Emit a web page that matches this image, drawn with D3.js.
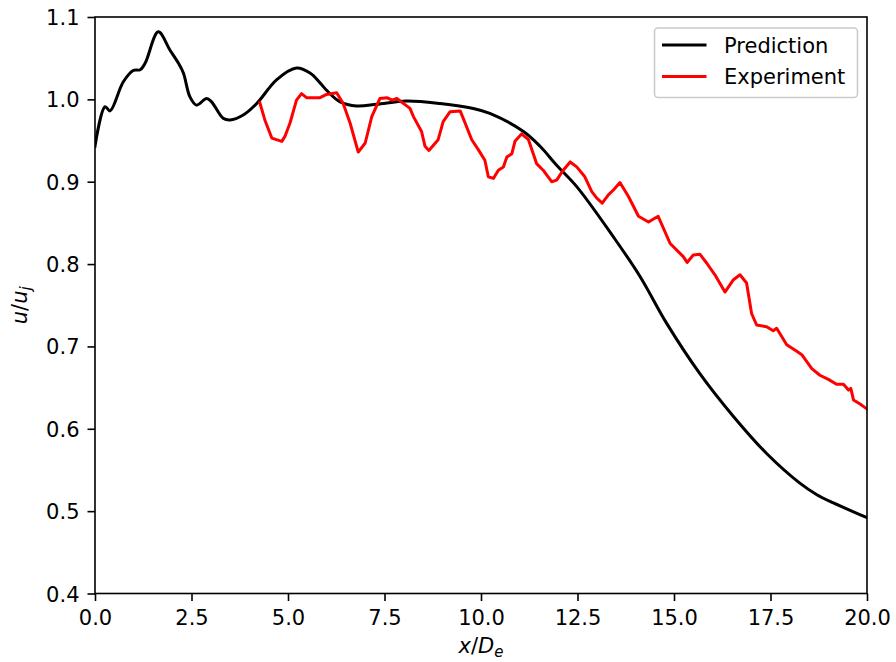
<!DOCTYPE html>
<html>
<head>
<meta charset="utf-8">
<script src="https://cdn.jsdelivr.net/npm/d3@7"></script>
<style>
  html, body { margin: 0; padding: 0; background: #fff; }
  svg { display: block; }
  text { font-family: "DejaVu Sans", sans-serif; }
</style>
</head>
<body>
<svg id="chart" width="896" height="662"></svg>
<script>
// Centreline velocity decay: prediction vs. experiment
const predX = [0, 0.26, 0.39, 0.73, 0.99, 1.17, 1.30, 1.64, 1.94, 2.16, 2.29, 2.46, 2.63, 2.89, 3.02, 3.32, 3.50, 3.84, 4.19, 4.71, 5.22, 5.57, 5.83, 6.00, 6.35, 6.78, 7.30, 8.07, 8.94, 9.80, 10.23, 11.10, 11.53, 11.96, 12.48, 13.43, 14.12, 14.81, 15.67, 16.54, 17.40, 18.26, 18.70, 19.13, 20.0];
const predY = [0.943, 0.991, 0.986, 1.021, 1.035, 1.036, 1.044, 1.082, 1.060, 1.044, 1.032, 1.003, 0.993, 1.001, 0.997, 0.977, 0.975, 0.981, 0.995, 1.024, 1.038, 1.032, 1.020, 1.011, 0.997, 0.992, 0.994, 0.998, 0.995, 0.989, 0.983, 0.961, 0.943, 0.920, 0.894, 0.833, 0.785, 0.728, 0.667, 0.615, 0.570, 0.534, 0.520, 0.510, 0.492];

const expX = [4.27, 4.40, 4.58, 4.84, 4.92, 5.05, 5.22, 5.35, 5.48, 5.83, 6.00, 6.26, 6.43, 6.61, 6.82, 7.00, 7.17, 7.38, 7.56, 7.70, 7.82, 8.16, 8.25, 8.46, 8.55, 8.65, 8.89, 9.02, 9.20, 9.46, 9.54, 9.76, 9.93, 10.10, 10.19, 10.32, 10.45, 10.58, 10.67, 10.80, 10.88, 11.05, 11.23, 11.44, 11.61, 11.83, 11.96, 12.13, 12.31, 12.48, 12.69, 12.87, 13.00, 13.14, 13.30, 13.43, 13.60, 13.82, 14.08, 14.34, 14.59, 14.90, 15.24, 15.34, 15.50, 15.67, 15.85, 16.06, 16.32, 16.54, 16.71, 16.88, 17.01, 17.14, 17.40, 17.57, 17.66, 17.92, 18.18, 18.31, 18.57, 18.78, 19.00, 19.21, 19.39, 19.52, 19.58, 19.65, 19.82, 20.0];
const expY = [0.996, 0.975, 0.953, 0.949, 0.955, 0.971, 0.999, 1.007, 1.002, 1.002, 1.006, 1.008, 0.995, 0.971, 0.936, 0.947, 0.979, 1.001, 1.002, 0.999, 1.001, 0.989, 0.979, 0.961, 0.943, 0.938, 0.951, 0.973, 0.985, 0.986, 0.977, 0.951, 0.939, 0.926, 0.906, 0.904, 0.914, 0.918, 0.930, 0.934, 0.949, 0.958, 0.951, 0.922, 0.914, 0.900, 0.902, 0.914, 0.924, 0.918, 0.906, 0.888, 0.880, 0.874, 0.884, 0.890, 0.899, 0.882, 0.858, 0.851, 0.858, 0.825, 0.809, 0.802, 0.811, 0.812, 0.801, 0.787, 0.766, 0.781, 0.787, 0.777, 0.740, 0.726, 0.724, 0.719, 0.722, 0.702, 0.694, 0.690, 0.673, 0.665, 0.660, 0.654, 0.654, 0.647, 0.649, 0.635, 0.630, 0.624];

const xTicks = [0, 2.5, 5, 7.5, 10, 12.5, 15, 17.5, 20];
const yTicks = [0.4, 0.5, 0.6, 0.7, 0.8, 0.9, 1.0, 1.1];
const seriesNames = ["Prediction", "Experiment"];
const seriesColors = ["#000000", "#ff0000"];

const svg = d3.select("#chart");
const margin = { left: 95, right: 29, top: 17, bottom: 68.5 };
const W = 896, H = 662;
const FONT = 21;

const x = d3.scaleLinear().domain([0, 20]).range([margin.left, W - margin.right]);
const y = d3.scaleLinear().domain([0.4, 1.1]).range([H - margin.bottom, margin.top]);

const clipId = "plotclip";
svg.append("clipPath").attr("id", clipId)
  .append("rect")
  .attr("x", x(0)).attr("y", y(1.1))
  .attr("width", x(20) - x(0)).attr("height", y(0.4) - y(1.1));

const plot = svg.append("g").attr("clip-path", `url(#${clipId})`);

const predLine = d3.line()
  .x(d => x(d[0])).y(d => y(d[1]))
  .curve(d3.curveCatmullRom.alpha(0.5));
const expLine = d3.line()
  .x(d => x(d[0])).y(d => y(d[1]))
  .curve(d3.curveLinear);

plot.append("path")
  .datum(d3.zip(predX, predY))
  .attr("d", predLine)
  .attr("fill", "none")
  .attr("stroke", seriesColors[0])
  .attr("stroke-width", 3)
  .attr("stroke-linejoin", "round")
  .attr("stroke-linecap", "square");

plot.append("path")
  .datum(d3.zip(expX, expY))
  .attr("d", expLine)
  .attr("fill", "none")
  .attr("stroke", seriesColors[1])
  .attr("stroke-width", 3)
  .attr("stroke-linejoin", "round")
  .attr("stroke-linecap", "square");

// Axes
const fmt = d3.format(".1f");

const xAxis = svg.append("g")
  .attr("transform", `translate(0,${y(0.4)})`)
  .call(d3.axisBottom(x).tickValues(xTicks).tickFormat(fmt).tickSize(7.5).tickPadding(9));
const yAxis = svg.append("g")
  .attr("transform", `translate(${x(0)},0)`)
  .call(d3.axisLeft(y).tickValues(yTicks).tickFormat(fmt).tickSize(7.5).tickPadding(8));

[xAxis, yAxis].forEach(g => {
  g.select(".domain").remove();
  g.selectAll(".tick line").attr("stroke", "#000").attr("stroke-width", 1.6);
  g.selectAll(".tick text")
    .attr("fill", "#000")
    .style("font-family", "'DejaVu Sans', sans-serif")
    .style("font-size", FONT + "px");
});
xAxis.selectAll(".tick text").attr("dy", "0.71em");
yAxis.selectAll(".tick text").attr("dy", "0.36em");

// Frame
svg.append("rect")
  .attr("x", x(0)).attr("y", y(1.1))
  .attr("width", x(20) - x(0)).attr("height", y(0.4) - y(1.1))
  .attr("fill", "none").attr("stroke", "#000").attr("stroke-width", 1.6);

// Axis labels
const xl = svg.append("text")
  .attr("x", (x(0) + x(20)) / 2)
  .attr("y", 653)
  .attr("text-anchor", "middle")
  .style("font-size", FONT + "px");
xl.append("tspan").style("font-style", "italic").text("x");
xl.append("tspan").text("/");
xl.append("tspan").style("font-style", "italic").text("D");
xl.append("tspan").style("font-style", "italic").style("font-size", "15px").attr("dy", 4).text("e");

const yl = svg.append("text")
  .attr("transform", `translate(27,${(y(0.4) + y(1.1)) / 2}) rotate(-90)`)
  .attr("text-anchor", "middle")
  .style("font-size", FONT + "px");
yl.append("tspan").style("font-style", "italic").text("u");
yl.append("tspan").text("/");
yl.append("tspan").style("font-style", "italic").text("u");
yl.append("tspan").style("font-style", "italic").style("font-size", "15px").attr("dy", 4).text("j");

// Legend
const leg = svg.append("g");
leg.append("rect")
  .attr("x", 654.5).attr("y", 28)
  .attr("width", 203).attr("height", 69.5)
  .attr("rx", 3.5).attr("ry", 3.5)
  .attr("fill", "#fff").attr("fill-opacity", 0.8)
  .attr("stroke", "#cccccc").attr("stroke-width", 1.6);

seriesNames.forEach((name, i) => {
  const yy = 45 + i * 31.5;
  leg.append("line")
    .attr("x1", 662).attr("x2", 706.5)
    .attr("y1", yy).attr("y2", yy)
    .attr("stroke", seriesColors[i]).attr("stroke-width", 3);
  leg.append("text")
    .attr("x", 724).attr("y", yy)
    .attr("dy", "0.36em")
    .style("font-size", FONT + "px")
    .text(name);
});
</script>
</body>
</html>
